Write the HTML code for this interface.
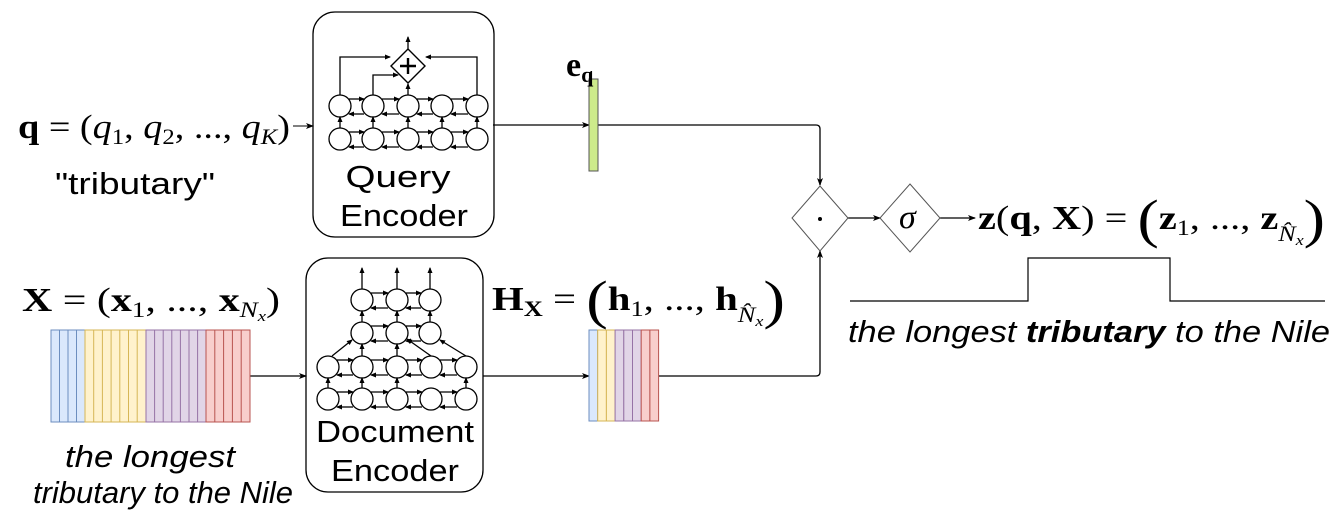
<!DOCTYPE html>
<html><head><meta charset="utf-8"><style>
body{margin:0;background:#fff}
svg{display:block}
.m{font-family:"Liberation Serif",serif}
.s{font-family:"Liberation Sans",sans-serif}
</style></head><body>
<svg width="1339" height="521" viewBox="0 0 1339 521" xmlns="http://www.w3.org/2000/svg">
<defs>
<marker id="a" markerWidth="8" markerHeight="8" refX="7" refY="4" orient="auto" markerUnits="userSpaceOnUse"><path d="M0,1 L8,4 L0,7 L2,4Z" fill="#000"/></marker>
<marker id="b" markerWidth="6" markerHeight="6" refX="5" refY="3" orient="auto" markerUnits="userSpaceOnUse"><path d="M0,0.5 L6,3 L0,5.5Z" fill="#000"/></marker>
</defs>
<g fill="none" stroke="#000" stroke-width="1.3">
<rect x="313" y="12" width="181" height="225" rx="22"/>
<circle cx="340" cy="106" r="11"/><circle cx="373" cy="106" r="11"/><circle cx="408" cy="106" r="11"/><circle cx="442" cy="106" r="11"/><circle cx="477" cy="106" r="11"/>
<circle cx="340" cy="139" r="11"/><circle cx="373" cy="139" r="11"/><circle cx="408" cy="139" r="11"/><circle cx="442" cy="139" r="11"/><circle cx="477" cy="139" r="11"/>
<g marker-end="url(#b)">
<path d="M349 99H364"/><path d="M382 99H399"/><path d="M417 99H433"/><path d="M451 99H468"/>
<path d="M468 114H451"/><path d="M433 114H417"/><path d="M399 114H382"/><path d="M364 114H349"/>
<path d="M349 132H364"/><path d="M382 132H399"/><path d="M417 132H433"/><path d="M451 132H468"/>
<path d="M468 147H451"/><path d="M433 147H417"/><path d="M399 147H382"/><path d="M364 147H349"/>
<path d="M340 128V117"/><path d="M373 128V117"/><path d="M408 128V117"/><path d="M442 128V117"/><path d="M477 128V117"/>
<path d="M340 95V57H390"/><path d="M477 95V57H426"/><path d="M373 95V75H398"/><path d="M408 95V84"/><path d="M408 49V37"/>
</g>
<path d="M408 49L425 66L408 83L391 66Z" stroke-width="1.4"/>
<path d="M400 66H416M408 58V74" stroke-width="2.4"/>
<rect x="306" y="258" width="177" height="234" rx="22"/>
<circle cx="362" cy="300" r="11"/><circle cx="397" cy="300" r="11"/><circle cx="430" cy="300" r="11"/>
<circle cx="362" cy="333" r="11"/><circle cx="397" cy="333" r="11"/><circle cx="430" cy="333" r="11"/>
<circle cx="328" cy="367" r="11"/><circle cx="362" cy="367" r="11"/><circle cx="397" cy="367" r="11"/><circle cx="431" cy="367" r="11"/><circle cx="466" cy="367" r="11"/>
<circle cx="328" cy="399" r="11"/><circle cx="362" cy="399" r="11"/><circle cx="397" cy="399" r="11"/><circle cx="431" cy="399" r="11"/><circle cx="466" cy="399" r="11"/>
<g marker-end="url(#b)">
<path d="M371 293H388"/><path d="M406 293H421"/><path d="M421 308H406"/><path d="M388 308H371"/>
<path d="M371 326H388"/><path d="M406 326H421"/><path d="M421 341H406"/><path d="M388 341H371"/>
<path d="M337 360H353"/><path d="M371 360H388"/><path d="M406 360H422"/><path d="M440 360H457"/>
<path d="M457 375H440"/><path d="M422 375H406"/><path d="M388 375H371"/><path d="M353 375H337"/>
<path d="M337 392H353"/><path d="M371 392H388"/><path d="M406 392H422"/><path d="M440 392H457"/>
<path d="M457 407H440"/><path d="M422 407H406"/><path d="M388 407H371"/><path d="M353 407H337"/>
<path d="M362 289V268"/><path d="M397 289V268"/><path d="M430 289V268"/>
<path d="M362 322V311"/><path d="M397 322V311"/><path d="M430 322V311"/>
<path d="M362 356V344"/><path d="M397 356V344"/><path d="M332 356L352 340"/><path d="M431 356L407 339"/><path d="M466 356L440 340"/>
<path d="M328 388V378"/><path d="M362 388V378"/><path d="M397 388V378"/><path d="M466 388V378"/>
</g>
<g marker-end="url(#a)">
<path d="M293 126H313" stroke-width="1"/>
<path d="M493 125H589"/>
<path d="M598 125H816Q820 125 820 129V185"/>
<path d="M250 376H306"/>
<path d="M483 376H589"/>
<path d="M659 376H816Q820 376 820 372V251"/>
<path d="M848 218H880"/>
<path d="M940 218H975"/>
</g>
<path d="M820 186L848 218L820 251L792 218Z" stroke="#555" stroke-width="1"/>
<path d="M910 184L940 218L910 252L880 218Z" stroke="#555" stroke-width="1"/>
<path d="M850 301H1028V258H1170V301H1325" stroke-width="1.2"/>
</g>
<circle cx="820" cy="219" r="2" fill="#000"/>
<rect x="589" y="79" width="9" height="92" fill="#cdeb8b" stroke="#555" stroke-width="1"/>
<g stroke-width="1">
<rect x="51" y="330" width="34" height="92" fill="#dae8fc" stroke="#6c8ebf"/>
<path d="M59.5 330V422M68 330V422M76.5 330V422" stroke="#6c8ebf"/>
<rect x="85" y="330" width="61" height="92" fill="#fff2cc" stroke="#d6b656"/>
<path d="M93.7 330V422M102.4 330V422M111.1 330V422M119.8 330V422M128.5 330V422M137.2 330V422" stroke="#d6b656"/>
<rect x="146" y="330" width="60" height="92" fill="#e1d5e7" stroke="#9673a6"/>
<path d="M154.6 330V422M163.2 330V422M171.8 330V422M180.4 330V422M189 330V422M197.6 330V422" stroke="#9673a6"/>
<rect x="206" y="330" width="44" height="92" fill="#f8cecc" stroke="#b85450"/>
<path d="M214.8 330V422M223.6 330V422M232.4 330V422M241.2 330V422" stroke="#b85450"/>
<rect x="589" y="330" width="8.7" height="91" fill="#dae8fc" stroke="#6c8ebf"/>
<rect x="597.7" y="330" width="8.7" height="91" fill="#fff2cc" stroke="#d6b656"/>
<rect x="606.4" y="330" width="8.7" height="91" fill="#fff2cc" stroke="#d6b656"/>
<rect x="615.1" y="330" width="8.7" height="91" fill="#e1d5e7" stroke="#9673a6"/>
<rect x="623.8" y="330" width="8.7" height="91" fill="#e1d5e7" stroke="#9673a6"/>
<rect x="632.5" y="330" width="8.7" height="91" fill="#e1d5e7" stroke="#9673a6"/>
<rect x="641.2" y="330" width="8.7" height="91" fill="#f8cecc" stroke="#b85450"/>
<rect x="649.9" y="330" width="8.7" height="91" fill="#f8cecc" stroke="#b85450"/>
</g>
<g class="s" font-size="31" text-anchor="middle">
<text x="398" y="187" textLength="105" lengthAdjust="spacingAndGlyphs">Query</text>
<text x="404" y="226" textLength="128" lengthAdjust="spacingAndGlyphs">Encoder</text>
<text x="395" y="442" textLength="158" lengthAdjust="spacingAndGlyphs">Document</text>
<text x="395" y="481" textLength="128" lengthAdjust="spacingAndGlyphs">Encoder</text>
<text x="135" y="194" textLength="160" lengthAdjust="spacingAndGlyphs">"tributary"</text>
<text x="150" y="467" font-style="italic" textLength="170" lengthAdjust="spacingAndGlyphs">the longest</text>
<text x="163" y="503" font-style="italic" textLength="260" lengthAdjust="spacingAndGlyphs">tributary to the Nile</text>
<text x="1089" y="342" font-style="italic" textLength="482" lengthAdjust="spacingAndGlyphs">the longest <tspan font-weight="bold">tributary</tspan> to the Nile</text>
</g>
<g class="m" font-size="34">
<text x="18" y="138" textLength="272" lengthAdjust="spacingAndGlyphs"><tspan font-weight="bold">q</tspan> = (<tspan font-style="italic">q</tspan><tspan font-size="22" dy="6">1</tspan><tspan dy="-6">, </tspan><tspan font-style="italic">q</tspan><tspan font-size="22" dy="6">2</tspan><tspan dy="-6">, ..., </tspan><tspan font-style="italic">q</tspan><tspan font-size="22" font-style="italic" dy="6">K</tspan><tspan dy="-6">)</tspan></text>
<text x="22" y="311" textLength="258" lengthAdjust="spacingAndGlyphs"><tspan font-weight="bold">X</tspan> = (<tspan font-weight="bold">x</tspan><tspan font-size="22" dy="6">1</tspan><tspan dy="-6">, ..., </tspan><tspan font-weight="bold">x</tspan><tspan font-size="22" font-style="italic" dy="6">N</tspan><tspan font-size="15" font-style="italic" dy="4">x</tspan><tspan dy="-10">)</tspan></text>
<text x="492" y="310" textLength="293" lengthAdjust="spacingAndGlyphs"><tspan font-weight="bold">H</tspan><tspan font-size="22" font-weight="bold" dy="6">X</tspan><tspan dy="-6"> = </tspan><tspan font-size="54" dy="8">(</tspan><tspan font-weight="bold" dy="-8">h</tspan><tspan font-size="22" dy="6">1</tspan><tspan dy="-6">, ..., </tspan><tspan font-weight="bold">h</tspan><tspan font-size="22" font-style="italic" dy="12">N̂</tspan><tspan font-size="15" font-style="italic" dy="4">x</tspan><tspan font-size="54" dy="-8">)</tspan></text>
<text x="566" y="76" font-weight="bold">e<tspan font-size="22" dy="6">q</tspan></text>
<text x="899" y="228" font-style="italic">σ</text>
<text x="978" y="229" textLength="347" lengthAdjust="spacingAndGlyphs"><tspan font-weight="bold">z</tspan>(<tspan font-weight="bold">q</tspan>, <tspan font-weight="bold">X</tspan>) = <tspan font-size="54" dy="8">(</tspan><tspan font-weight="bold" dy="-8">z</tspan><tspan font-size="22" dy="6">1</tspan><tspan dy="-6">, ..., </tspan><tspan font-weight="bold">z</tspan><tspan font-size="22" font-style="italic" dy="12">N̂</tspan><tspan font-size="15" font-style="italic" dy="4">x</tspan><tspan font-size="54" dy="-8">)</tspan></text>
</g>
</svg>
</body></html>
